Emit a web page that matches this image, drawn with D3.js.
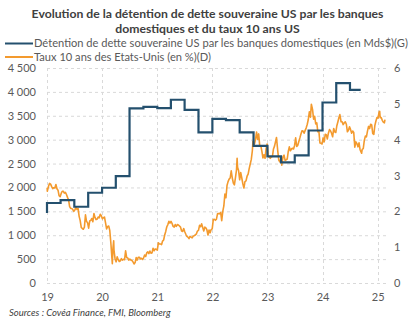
<!DOCTYPE html>
<html><head><meta charset="utf-8">
<script src="https://cdn.jsdelivr.net/npm/d3@7"></script>
<style>
html,body{margin:0;padding:0;background:#fff;}
svg{display:block;font-family:Lato,"Open Sans",sans-serif;}
</style></head>
<body>
<svg id="c" width="415" height="326"></svg>
<script>
// ---- DATA ----
const titleLines = ["Evolution de la détention de dette souveraine US par les banques", "domestiques et du taux 10 ans US"];
const legendLabels = ["Détention de dette souveraine US par les banques domestiques (en Mds$)(G)", "Taux 10 ans des Etats-Unis (en %)(D)"];
const sourceText = "Sources : Covéa Finance, FMI, Bloomberg";
const leftTicks = [0, 500, 1000, 1500, 2000, 2500, 3000, 3500, 4000, 4500];
const rightTicks = [0, 1, 2, 3, 4, 5, 6];
const yearTicks = ["2019-01-01","2020-01-01","2021-01-01","2022-01-01","2023-01-01","2024-01-01","2025-01-01"];
const yearLabels = ["19","20","21","22","23","24","25"];

// Holdings of US sovereign debt by domestic banks (bn $), quarterly steps
const holdDates = ["2019-01-01","2019-04-01","2019-07-01","2019-10-01","2020-01-01","2020-04-01","2020-07-01","2020-10-01",
  "2021-01-01","2021-04-01","2021-07-01","2021-10-01","2022-01-01","2022-04-01","2022-07-01","2022-10-01",
  "2023-01-01","2023-04-01","2023-07-01","2023-10-01","2024-01-01","2024-04-01","2024-07-01","2024-09-10"];
const holdValues = [1465,1674,1736,1596,1889,1994,2238,3653,3688,3661,3835,3625,3151,3437,3410,3151,2872,2649,2523,2670,3192,3778,4184,4044];

// US 10Y yield (%)
const rateDates = [
"2019-01-02","2019-01-03","2019-01-11","2019-01-18","2019-01-25","2019-02-01","2019-02-08","2019-02-15","2019-02-22","2019-03-01","2019-03-08","2019-03-15","2019-03-22","2019-03-29","2019-04-05","2019-04-12","2019-04-19","2019-04-26","2019-05-03","2019-05-10","2019-05-17","2019-05-24","2019-05-31","2019-06-07","2019-06-14","2019-06-21","2019-06-28","2019-07-05","2019-07-12","2019-07-19","2019-07-26","2019-08-02","2019-08-09","2019-08-16","2019-08-23","2019-08-30","2019-09-06","2019-09-13","2019-09-20","2019-09-27","2019-10-04","2019-10-11","2019-10-18","2019-10-25","2019-11-01","2019-11-08","2019-11-15","2019-11-22","2019-11-29","2019-12-06","2019-12-13","2019-12-20","2019-12-27",
"2020-01-03","2020-01-10","2020-01-17","2020-01-24","2020-01-31","2020-02-07","2020-02-14","2020-02-21","2020-02-28","2020-03-06","2020-03-09","2020-03-13","2020-03-18","2020-03-20","2020-03-27","2020-04-03","2020-04-10","2020-04-17","2020-04-24","2020-05-01","2020-05-08","2020-05-15","2020-05-22","2020-05-29","2020-06-05","2020-06-12","2020-06-19","2020-06-26","2020-07-03","2020-07-10","2020-07-17","2020-07-24","2020-07-31","2020-08-07","2020-08-14","2020-08-21","2020-08-28","2020-09-04","2020-09-11","2020-09-18","2020-09-25","2020-10-02","2020-10-09","2020-10-16","2020-10-23","2020-10-30","2020-11-06","2020-11-13","2020-11-20","2020-11-27","2020-12-04","2020-12-11","2020-12-18","2020-12-25",
"2021-01-01","2021-01-08","2021-01-15","2021-01-22","2021-01-29","2021-02-05","2021-02-12","2021-02-19","2021-02-26","2021-03-05","2021-03-12","2021-03-19","2021-03-26","2021-04-02","2021-04-09","2021-04-16","2021-04-23","2021-04-30","2021-05-07","2021-05-14","2021-05-21","2021-05-28","2021-06-04","2021-06-11","2021-06-18","2021-06-25","2021-07-02","2021-07-09","2021-07-16","2021-07-23","2021-07-30","2021-08-06","2021-08-13","2021-08-20","2021-08-27","2021-09-03","2021-09-10","2021-09-17","2021-09-24","2021-10-01","2021-10-08","2021-10-15","2021-10-22","2021-10-29","2021-11-05","2021-11-12","2021-11-19","2021-11-26","2021-12-03","2021-12-10","2021-12-17","2021-12-24","2021-12-31",
"2022-01-07","2022-01-14","2022-01-21","2022-01-28","2022-02-04","2022-02-11","2022-02-18","2022-02-25","2022-03-04","2022-03-11","2022-03-18","2022-03-25","2022-04-01","2022-04-08","2022-04-15","2022-04-22","2022-04-29","2022-05-06","2022-05-13","2022-05-20","2022-05-27","2022-06-03","2022-06-10","2022-06-14","2022-06-17","2022-06-24","2022-07-01","2022-07-08","2022-07-15","2022-07-22","2022-07-29","2022-08-05","2022-08-12","2022-08-19","2022-08-26","2022-09-02","2022-09-09","2022-09-16","2022-09-23","2022-09-27","2022-09-30","2022-10-07","2022-10-14","2022-10-21","2022-10-28","2022-11-04","2022-11-11","2022-11-18","2022-11-25","2022-12-02","2022-12-09","2022-12-16","2022-12-23","2022-12-30",
"2023-01-06","2023-01-13","2023-01-20","2023-01-27","2023-02-03","2023-02-10","2023-02-17","2023-02-24","2023-03-02","2023-03-10","2023-03-17","2023-03-24","2023-03-31","2023-04-06","2023-04-14","2023-04-21","2023-04-28","2023-05-05","2023-05-12","2023-05-19","2023-05-26","2023-06-02","2023-06-09","2023-06-16","2023-06-23","2023-06-30","2023-07-07","2023-07-14","2023-07-21","2023-07-28","2023-08-04","2023-08-11","2023-08-18","2023-08-25","2023-09-01","2023-09-08","2023-09-15","2023-09-22","2023-09-29","2023-10-06","2023-10-13","2023-10-19","2023-10-27","2023-11-03","2023-11-10","2023-11-17","2023-11-24","2023-12-01","2023-12-08","2023-12-15","2023-12-22","2023-12-29",
"2024-01-05","2024-01-12","2024-01-19","2024-01-26","2024-02-02","2024-02-09","2024-02-16","2024-02-23","2024-03-01","2024-03-08","2024-03-15","2024-03-22","2024-03-29","2024-04-05","2024-04-12","2024-04-19","2024-04-25","2024-05-03","2024-05-10","2024-05-17","2024-05-24","2024-05-31","2024-06-07","2024-06-14","2024-06-21","2024-06-28","2024-07-05","2024-07-12","2024-07-19","2024-07-26","2024-08-02","2024-08-09","2024-08-16","2024-08-23","2024-08-30","2024-09-06","2024-09-13","2024-09-16","2024-09-20","2024-09-27","2024-10-04","2024-10-11","2024-10-18","2024-10-25","2024-11-01","2024-11-08","2024-11-15","2024-11-22","2024-11-29","2024-12-06","2024-12-13","2024-12-20","2024-12-27",
"2025-01-03","2025-01-10","2025-01-14","2025-01-17","2025-01-24","2025-01-31","2025-02-07","2025-02-14","2025-02-18"];
const rateValues = [
2.66,2.56,2.70,2.78,2.76,2.69,2.63,2.66,2.65,2.75,2.63,2.59,2.44,2.41,2.50,2.56,2.56,2.51,2.53,2.47,2.39,2.32,2.13,2.08,2.08,2.05,2.00,2.04,2.12,2.05,2.08,1.86,1.74,1.55,1.52,1.50,1.56,1.90,1.72,1.68,1.53,1.73,1.75,1.80,1.71,1.94,1.83,1.77,1.78,1.84,1.82,1.92,1.88,
1.79,1.82,1.84,1.68,1.51,1.58,1.59,1.47,1.13,0.71,0.54,0.96,1.18,0.92,0.68,0.59,0.73,0.65,0.60,0.62,0.68,0.64,0.66,0.65,0.90,0.71,0.70,0.64,0.67,0.64,0.63,0.59,0.53,0.57,0.71,0.64,0.72,0.72,0.67,0.69,0.66,0.70,0.78,0.74,0.84,0.87,0.82,0.89,0.83,0.84,0.97,0.90,0.95,0.94,
0.92,1.12,1.09,1.09,1.07,1.17,1.20,1.34,1.44,1.57,1.63,1.72,1.67,1.72,1.66,1.58,1.56,1.63,1.58,1.63,1.62,1.59,1.56,1.45,1.44,1.52,1.43,1.36,1.30,1.28,1.24,1.30,1.28,1.26,1.31,1.32,1.34,1.37,1.45,1.47,1.61,1.57,1.65,1.55,1.45,1.56,1.54,1.48,1.34,1.48,1.40,1.49,1.51,
1.77,1.78,1.75,1.78,1.93,1.94,1.93,1.97,1.74,2.00,2.15,2.48,2.38,2.72,2.83,2.90,2.93,3.13,2.93,2.79,2.74,2.94,3.16,3.48,3.23,3.13,2.88,3.08,2.93,2.77,2.65,2.83,2.85,2.98,3.04,3.19,3.32,3.45,3.69,3.95,3.83,3.88,4.01,4.21,4.01,4.16,3.82,3.83,3.68,3.49,3.58,3.48,3.75,3.88,
3.56,3.51,3.48,3.52,3.53,3.74,3.82,3.95,4.06,3.70,3.43,3.38,3.47,3.29,3.52,3.57,3.42,3.44,3.46,3.67,3.80,3.69,3.74,3.76,3.74,3.84,4.05,3.81,3.84,3.95,4.05,4.16,4.25,4.24,4.18,4.26,4.33,4.43,4.57,4.78,4.63,4.99,4.84,4.57,4.65,4.44,4.47,4.22,4.23,3.91,3.90,3.88,
4.05,3.94,4.15,4.14,4.02,4.18,4.28,4.25,4.18,4.08,4.31,4.22,4.20,4.39,4.50,4.62,4.70,4.50,4.50,4.42,4.47,4.50,4.43,4.22,4.26,4.36,4.28,4.18,4.24,4.20,3.79,3.94,3.89,3.80,3.91,3.72,3.65,3.62,3.73,3.75,3.98,4.10,4.08,4.24,4.37,4.31,4.43,4.41,4.17,4.15,4.40,4.52,4.62,
4.60,4.77,4.79,4.61,4.62,4.54,4.49,4.47,4.56];

// ---- CHART ----
const parse = d3.timeParse("%Y-%m-%d");
const svg = d3.select("#c");
const plot = {left: 47, right: 388, top: 68, bottom: 283};

const x = d3.scaleTime().domain([parse("2019-01-01"), parse("2025-03-10")]).range([plot.left, plot.right]);
const yL = d3.scaleLinear().domain([0, 4500]).range([plot.bottom, plot.top]);
const yR = d3.scaleLinear().domain([0, 6]).range([plot.bottom, plot.top]);

const gridColor = "#d9d9d9";
const txtColor = "#595959";

// horizontal gridlines
svg.append("g").selectAll("line").data(leftTicks).join("line")
  .attr("x1", plot.left).attr("x2", plot.right)
  .attr("y1", d => yL(d) + 0.5).attr("y2", d => yL(d) + 0.5)
  .attr("stroke", gridColor).attr("stroke-width", 1).attr("stroke-dasharray", "3,3");
// vertical gridlines
svg.append("g").selectAll("line").data(yearTicks).join("line")
  .attr("x1", d => Math.round(x(parse(d))) + 0.5).attr("x2", d => Math.round(x(parse(d))) + 0.5)
  .attr("y1", plot.top).attr("y2", plot.bottom)
  .attr("stroke", gridColor).attr("stroke-width", 1).attr("stroke-dasharray", "3,3");

// axes
const fmtL = v => d3.format(",")(v).replace(/,/g, " ");
const axL = svg.append("g").attr("transform", `translate(${plot.left - 11},0)`)
  .call(d3.axisLeft(yL).tickValues(leftTicks).tickFormat(fmtL).tickSize(0).tickPadding(0));
const axR = svg.append("g").attr("transform", `translate(${plot.right + 6},0)`)
  .call(d3.axisRight(yR).tickValues(rightTicks).tickFormat(d3.format("d")).tickSize(0).tickPadding(0));
const axX = svg.append("g").attr("transform", `translate(0,${plot.bottom + 8})`)
  .call(d3.axisBottom(x).tickValues(yearTicks.map(parse)).tickFormat((d, i) => yearLabels[i]).tickSize(0).tickPadding(0));
[axL, axR, axX].forEach(a => {
  a.select(".domain").remove();
  a.selectAll("text").attr("fill", txtColor).style("font-size", "11px").style("font-family", "Lato, sans-serif");
});
axX.selectAll("text").attr("dy", "0.9em");

// lines
const holdData = holdDates.map((d, i) => ({date: parse(d), v: holdValues[i]}));
const rateData = rateDates.map((d, i) => ({date: parse(d), v: rateValues[i]}));

svg.append("path").datum(rateData)
  .attr("fill", "none").attr("stroke", "#F39A2E").attr("stroke-width", 1.6).attr("stroke-linejoin", "round")
  .attr("d", d3.line().x(d => x(d.date)).y(d => yR(d.v)));

svg.append("path").datum(holdData)
  .attr("fill", "none").attr("stroke", "#24506E").attr("stroke-width", 2.2)
  .attr("d", d3.line().curve(d3.curveStepBefore).x(d => x(d.date)).y(d => yL(d.v)));

// title
const title = svg.append("g");
const tl = [{t: titleLines[0], y: 18}, {t: titleLines[1], y: 32.5}];
tl.forEach(o => {
  title.append("text").attr("x", 207.5).attr("y", o.y).attr("text-anchor", "middle")
    .attr("fill", "#404040").style("font-weight", "bold").style("font-size", "13px").text(o.t);
});
const w0 = title.select("text").node().getComputedTextLength();
const fs = Math.min(13.4, 13 * 352 / w0);
title.selectAll("text").style("font-size", fs.toFixed(2) + "px");

// legend
const legColors = ["#24506E", "#F39A2E"];
const legY = [47, 60.5];
legendLabels.forEach((lab, i) => {
  svg.append("line").attr("x1", 5).attr("x2", 33).attr("y1", legY[i] - 3.5).attr("y2", legY[i] - 3.5)
    .attr("stroke", legColors[i]).attr("stroke-width", 2);
  svg.append("text").attr("x", 34).attr("y", legY[i]).attr("fill", txtColor)
    .attr("class", "leg").style("font-size", "11px").text(lab);
});
const lw = svg.select("text.leg").node().getComputedTextLength();
svg.selectAll("text.leg").style("font-size", Math.min(11.3, 11 * 374 / lw).toFixed(2) + "px");

// source
svg.append("text").attr("x", 9).attr("y", 316).attr("fill", "#404040")
  .style("font-style", "italic").style("font-size", "9.5px").text(sourceText);
</script>
</body></html>
